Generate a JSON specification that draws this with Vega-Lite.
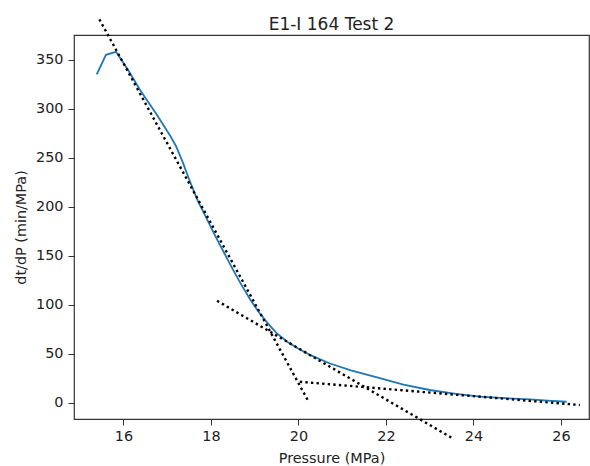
{
  "$schema": "https://vega.github.io/schema/vega-lite/v6.json",
  "width": 515,
  "height": 384,
  "autosize": "none",
  "padding": {"left": 74, "top": 35, "right": 1, "bottom": 47},
  "title": {"text": "E1-I 164 Test 2", "fontSize": 17, "font": "DejaVu Sans", "fontWeight": "normal", "color": "#222", "offset": 6, "dy": 25},
  "datasets": {
    "curve": [
      {"p": 15.39, "v": 335},
      {"p": 15.6, "v": 355},
      {"p": 15.83, "v": 358},
      {"p": 16.1, "v": 340},
      {"p": 16.38, "v": 319},
      {"p": 16.76, "v": 294},
      {"p": 17.06, "v": 273},
      {"p": 17.2, "v": 262},
      {"p": 17.35, "v": 246},
      {"p": 17.5, "v": 228},
      {"p": 17.7, "v": 206},
      {"p": 17.9, "v": 188},
      {"p": 18.1, "v": 170},
      {"p": 18.3, "v": 153},
      {"p": 18.5, "v": 136},
      {"p": 18.7, "v": 120},
      {"p": 18.9, "v": 105},
      {"p": 19.1, "v": 92},
      {"p": 19.3, "v": 81},
      {"p": 19.5, "v": 71},
      {"p": 19.75, "v": 62},
      {"p": 20.0, "v": 55},
      {"p": 20.3, "v": 48},
      {"p": 20.72, "v": 40},
      {"p": 21.2, "v": 33},
      {"p": 21.86, "v": 25},
      {"p": 22.4, "v": 18.5},
      {"p": 23.0, "v": 13},
      {"p": 23.6, "v": 9},
      {"p": 24.15, "v": 6.2},
      {"p": 24.7, "v": 4.7},
      {"p": 25.29, "v": 3.4},
      {"p": 25.7, "v": 2.2},
      {"p": 26.13, "v": 1}
    ],
    "fits": [
      {"line": "a", "p": 15.45, "v": 391.2},
      {"line": "a", "p": 20.22, "v": 2},
      {"line": "b", "p": 18.14, "v": 104},
      {"line": "b", "p": 23.51, "v": -36},
      {"line": "c", "p": 20.03, "v": 21.4},
      {"line": "c", "p": 26.43, "v": -2.3}
    ]
  },
  "encoding": {
    "x": {
      "field": "p", "type": "quantitative", "title": "Pressure (MPa)",
      "scale": {"domain": [14.87, 26.64], "nice": false, "zero": false},
      "axis": {"values": [16, 18, 20, 22, 24, 26], "grid": false, "domain": false, "tickSize": 6, "tickColor": "#333", "labelPadding": 4, "labelFontSize": 14.4, "labelFont": "DejaVu Sans", "labelColor": "#222", "titleFontSize": 14.4, "titleFont": "DejaVu Sans", "titleFontWeight": "normal", "titleColor": "#222", "titlePadding": 9}
    },
    "y": {
      "field": "v", "type": "quantitative", "title": "dt/dP (min/MPa)",
      "scale": {"domain": [-16.6, 375.2], "nice": false, "zero": false},
      "axis": {"values": [0, 50, 100, 150, 200, 250, 300, 350], "grid": false, "domain": false, "tickSize": 6, "tickColor": "#333", "labelPadding": 5, "labelFontSize": 14.4, "labelFont": "DejaVu Sans", "labelColor": "#222", "titleFontSize": 14.4, "titleFont": "DejaVu Sans", "titleFontWeight": "normal", "titleColor": "#222", "titlePadding": 7}
    }
  },
  "layer": [
    {
      "data": {"name": "curve"},
      "mark": {"type": "line", "color": "#1f77b4", "strokeWidth": 1.8}
    },
    {
      "data": {"name": "fits"},
      "mark": {"type": "line", "color": "#000000", "strokeWidth": 2.4, "strokeDash": [2.4, 3.2], "clip": false},
      "encoding": {"detail": {"field": "line"}}
    }
  ],
  "config": {
    "view": {"stroke": "#333", "strokeWidth": 1.2},
    "background": "white"
  }
}
